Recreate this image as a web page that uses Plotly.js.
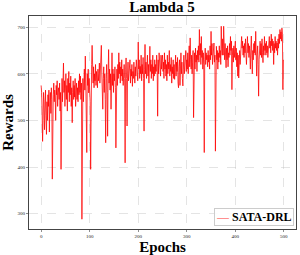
<!DOCTYPE html>
<html>
<head>
<meta charset="utf-8">
<script src="https://cdn.plot.ly/plotly-3.0.1.min.js"></script>
<style>html,body{margin:0;padding:0;background:#fff;}#chart{width:300px;height:255px;}</style>
</head>
<body>
<div id="chart"></div>
<script>
const seriesName = "SATA-DRL";
const chartTitle = "Lambda 5";
const xLabel = "Epochs";
const yLabel = "Rewards";
const xTicks = [0, 100, 200, 300, 400, 500];
const yTicks = [300, 400, 500, 600, 700];

const rewards = [
  575,560,520,455,500,560,540,480,555,565,510,470,540,500,555,530,565,475,540,560,515,570,545,374,520,
  555,580,540,565,550,500,575,555,585,530,560,570,545,580,520,560,395,560,590,540,575,623,560,585,530,
  570,600,545,575,520,590,560,605,540,580,555,595,530,570,495,560,585,545,575,550,590,530,565,580,545,
  570,540,585,555,600,560,595,545,580,288,560,590,540,575,610,565,638,580,470,431,600,575,610,559,590,
  575,540,395,590,620,661,600,580,615,570,600,585,620,575,605,590,570,610,585,600,623,580,610,595,661,
  600,575,524,590,615,560,600,545,452,590,620,560,466,600,652,580,610,565,600,524,590,645,575,610,560,
  600,585,615,570,441,590,610,575,620,590,645,600,625,580,615,595,630,585,610,575,600,620,590,409,610,
  634,590,488,600,625,585,615,600,630,580,610,595,620,573,605,590,625,600,580,615,595,630,600,610,585,
  668,610,630,590,616,600,640,585,620,600,635,590,477,610,663,600,625,590,615,640,595,620,580,610,659,
  605,630,590,620,600,640,585,615,595,630,600,620,605,640,615,509,630,600,645,615,625,595,640,610,630,
  640,605,625,590,645,610,630,595,620,585,640,600,625,610,650,595,620,605,635,580,615,600,630,590,620,
  588,610,640,595,625,605,635,580,570,615,630,575,620,645,600,625,590,574,610,640,600,630,615,650,605,
  630,610,645,600,625,660,615,677,630,610,640,600,625,650,506,620,645,610,655,625,640,605,650,630,660,
  625,695,640,665,620,680,635,650,610,645,620,431,630,655,620,645,630,640,615,650,625,640,610,660,630,
  691,640,665,620,650,635,666,625,640,434,615,659,630,650,610,645,625,660,635,650,620,702,655,640,675,
  640,702,650,630,665,640,613,655,630,660,615,645,635,665,640,680,650,670,566,640,655,625,660,635,650,
  670,630,655,615,645,595,640,591,630,650,620,660,640,680,655,670,640,660,635,665,645,675,640,620,655,
  680,645,665,635,660,640,610,655,681,640,600,650,630,665,645,670,640,691,655,595,640,660,620,552,630,
  650,670,640,665,635,675,645,624,660,640,680,650,665,640,670,645,660,635,665,650,680,655,670,645,685,
  660,675,650,670,620,665,645,680,655,670,650,666,640,675,655,685,665,695,675,690,670,698,685,566,630
];
const epochs = rewards.map((_, i) => i);

const serif = "Liberation Serif, Times New Roman, serif";
const lineColor = "rgba(255,0,0,0.85)";

const trace = {
  x: epochs,
  y: rewards,
  type: "scatter",
  mode: "lines",
  name: seriesName,
  line: {color: lineColor, width: 0.9}
};

const axisCommon = {
  showgrid: true,
  gridcolor: "rgba(190,190,190,0.7)",
  griddash: "dash",
  gridwidth: 0.6,
  zeroline: false,
  showline: true,
  mirror: true,
  linecolor: "#444",
  linewidth: 1,
  ticks: "outside",
  ticklen: 2,
  tickwidth: 0.6,
  tickcolor: "#444",
  tickfont: {family: serif, size: 5, color: "#222"}
};

const layout = {
  width: 300,
  height: 255,
  margin: {l: 29, r: 4, t: 16, b: 26},
  paper_bgcolor: "#fff",
  plot_bgcolor: "#fff",
  showlegend: false,
  title: {
    text: chartTitle,
    font: {family: serif, size: 15, color: "#000", weight: "bold"},
    x: 0.54, xanchor: "center", y: 0.975, yanchor: "middle"
  },
  xaxis: Object.assign({}, axisCommon, {
    range: [-25, 525],
    tickvals: xTicks,
    ticktext: xTicks.map(String),
    title: {text: xLabel, font: {family: serif, size: 15, color: "#000", weight: "bold"}, standoff: 1}
  }),
  yaxis: Object.assign({}, axisCommon, {
    range: [267, 724],
    tickvals: yTicks,
    ticktext: yTicks.map(String),
    title: {text: yLabel, font: {family: serif, size: 15, color: "#000", weight: "bold"}, standoff: 4}
  }),
  annotations: [{
    xref: "paper", yref: "paper",
    x: 0.991, y: 0.014, xanchor: "right", yanchor: "bottom",
    showarrow: false,
    text: "<span style='color:" + lineColor + ";font-weight:normal'>—</span> " + seriesName,
    font: {family: serif, size: 12, color: "#000", weight: "bold"},
    bgcolor: "rgba(255,255,255,0.9)",
    bordercolor: "#ccc", borderwidth: 1, borderpad: 1
  }]
};

Plotly.newPlot("chart", [trace], layout, {displayModeBar: false, staticPlot: true});
</script>
</body>
</html>
